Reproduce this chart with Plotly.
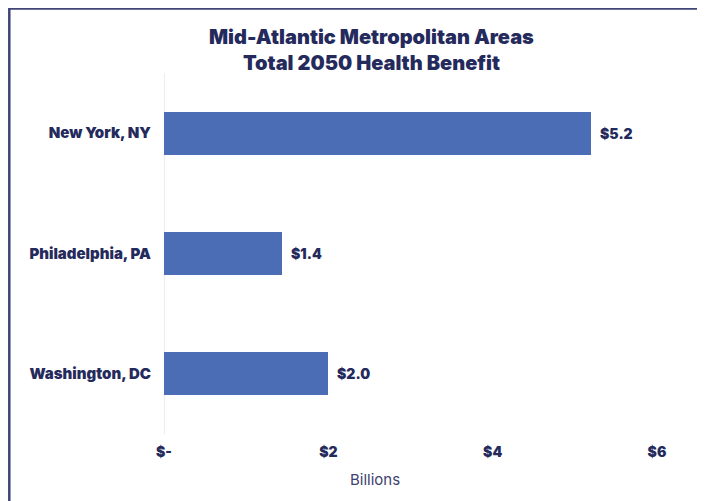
import plotly.graph_objects as go

cities = ["New York, NY", "Philadelphia, PA", "Washington, DC"]
benefit_billions = [5.2, 1.44, 2.0]
value_labels = ["$5.2", "$1.4", "$2.0"]
x_tick_vals = [0, 2, 4, 6]
x_tick_text = ["$-", "$2", "$4", "$6"]

NAVY = "#252a5c"
BAR = "#4a6db5"
# page body has an 8px margin, so the figure is laid out in shifted coordinates
W, H = 697, 493
L, R, T, B = 156, 48, 65, 67
PW, PH = W - L - R, H - T - B


def px_x(p):
    return (p - L) / PW


def px_y(p):
    return 1 - (p - T) / PH


fig = go.Figure()
fig.add_trace(go.Bar(
    y=cities, x=benefit_billions, orientation="h",
    marker=dict(color=BAR, line=dict(width=0)),
    width=0.36, hoverinfo="skip",
))

for c, v, t in zip(cities, benefit_billions, value_labels):
    fig.add_annotation(x=v, y=c, xref="x", yref="y", text=t, showarrow=False,
                       xanchor="left", xshift=7,
                       font=dict(family="Inter", size=14, color=NAVY, weight=900))

fig.add_annotation(xref="paper", yref="paper", x=px_x(363), y=px_y(41.5),
                   text="Mid-Atlantic Metropolitan Areas<br>Total 2050 Health Benefit",
                   showarrow=False, xanchor="center", yanchor="middle",
                   font=dict(family="Inter", size=20, color=NAVY, weight=900))

fig.add_annotation(xref="paper", yref="paper", x=px_x(367), y=px_y(472),
                   text="Billions", showarrow=False, xanchor="center", yanchor="middle",
                   font=dict(family="Inter", size=15, color="#3e4270"))

fig.add_shape(type="rect", xref="paper", yref="paper",
              x0=px_x(1.3), x1=px_x(692.5), y0=px_y(0.5), y1=px_y(505),
              line=dict(color="#3f4577", width=2.5), layer="above")

fig.add_shape(type="line", xref="x", yref="paper", x0=0, x1=0, y0=0, y1=1,
              line=dict(color="#d9d9d9", width=1), layer="below")

fig.update_layout(
    width=W, height=H,
    margin=dict(l=L, r=R, t=T, b=B, pad=0),
    paper_bgcolor="white", plot_bgcolor="white",
    showlegend=False,
    bargap=0,
    xaxis=dict(range=[0, 6], tickvals=x_tick_vals, ticktext=x_tick_text,
               showgrid=False, zeroline=False, showline=False, ticks="",
               ticklabelstandoff=8,
               tickfont=dict(family="Inter", size=14, color=NAVY, weight=900)),
    yaxis=dict(autorange="reversed", showgrid=False, zeroline=False,
               showline=False, ticks="", ticklabelstandoff=12,
               tickfont=dict(family="Inter", size=15, color=NAVY, weight=900)),
)

fig.write_html("out.html")
